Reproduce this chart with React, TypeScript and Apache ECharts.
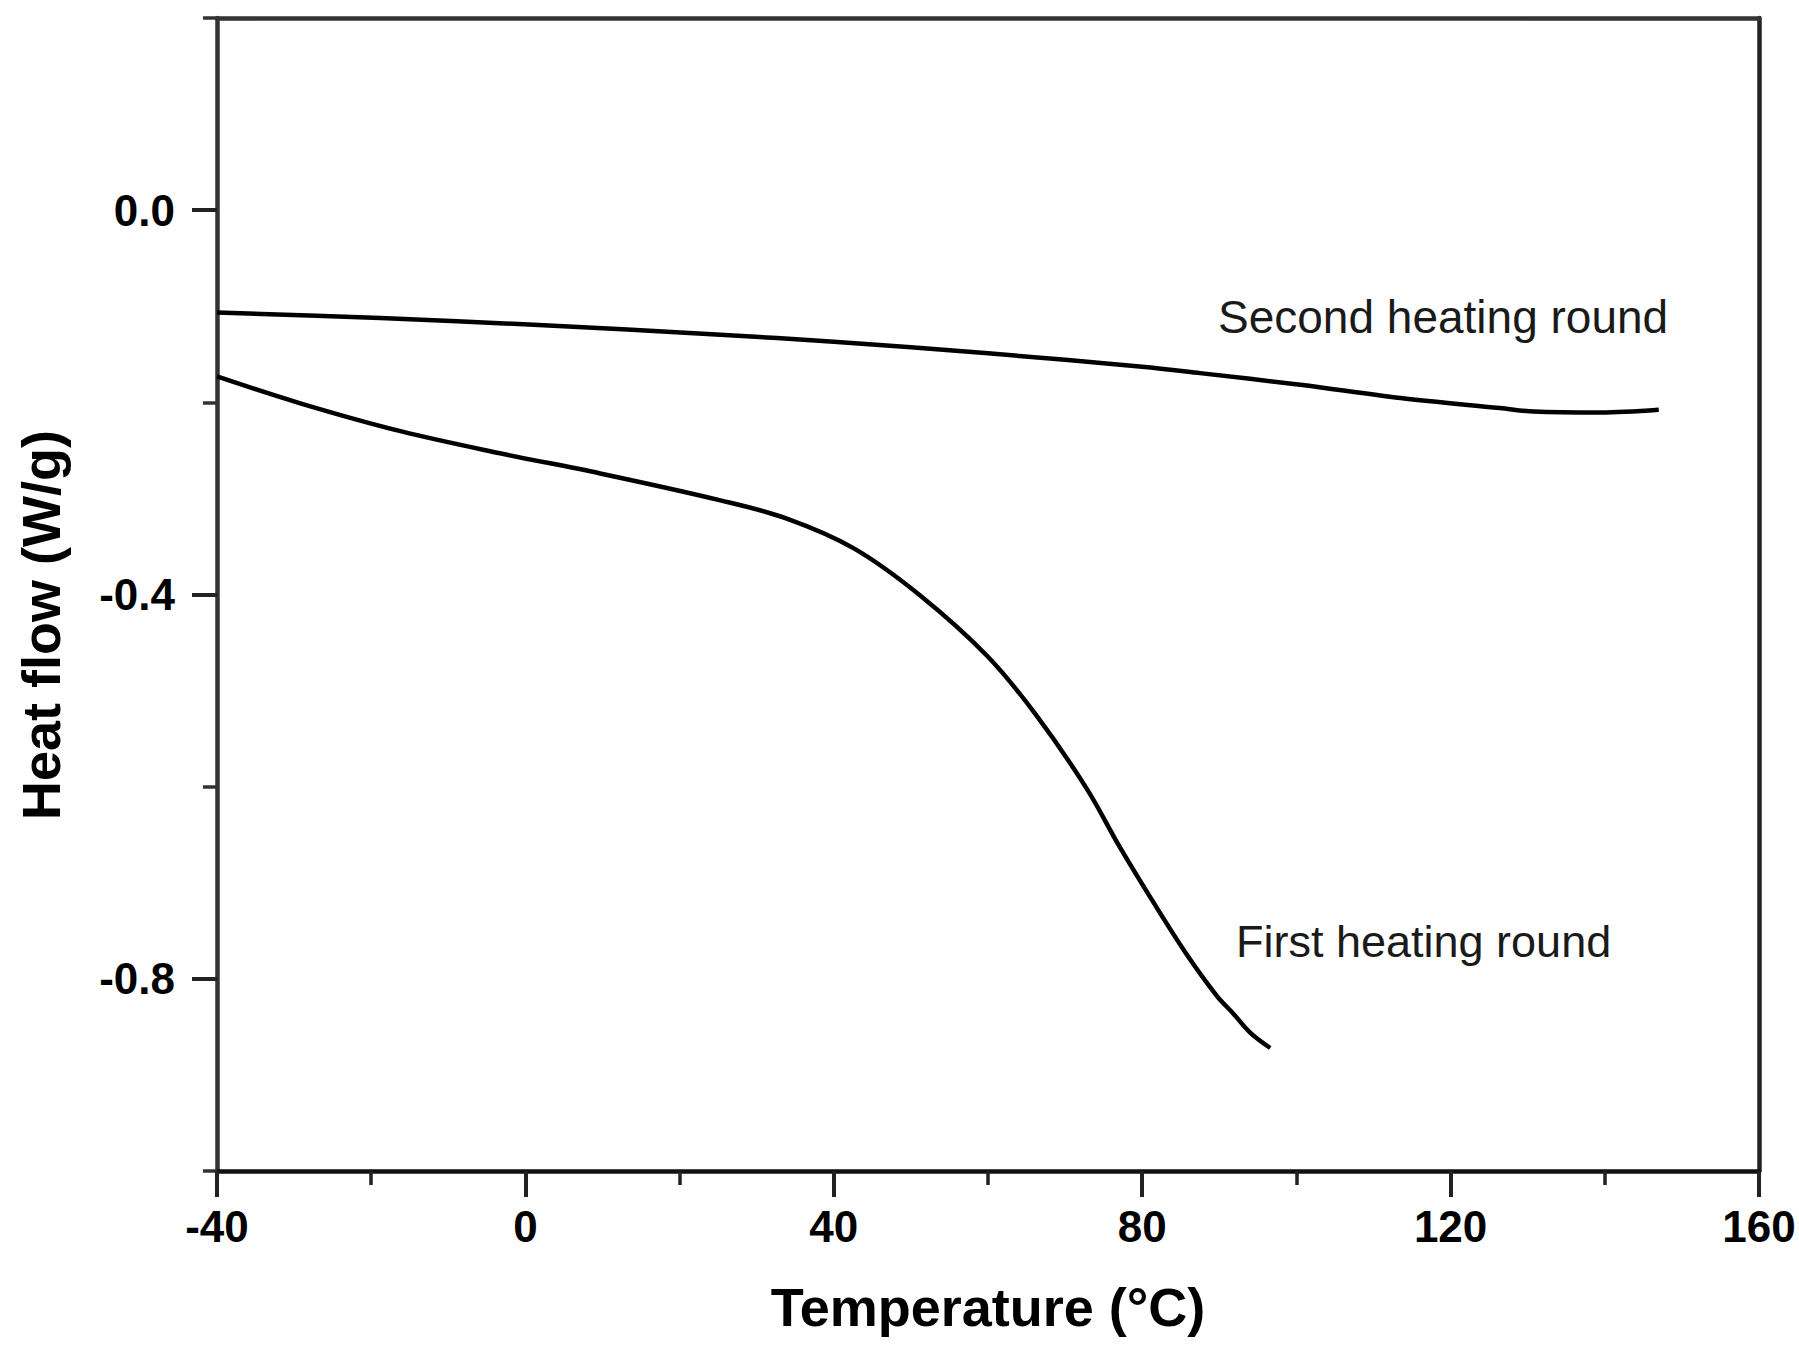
import React, { useEffect, useRef } from "react";
import * as echarts from "echarts";

// Temperature (°C) and heat flow (W/g)
const FIRST_T = [-40, -29.2, -16.2, -3.3, 9.7, 25.3, 33.9, 42.6, 51.2, 59.9, 66.3, 72.8, 77.1, 81.5, 85.8, 89.7, 91.8, 94.0, 96.6];
const FIRST_V = [-0.173, -0.201, -0.23, -0.253, -0.274, -0.302, -0.321, -0.352, -0.401, -0.464, -0.526, -0.602, -0.663, -0.721, -0.775, -0.818, -0.836, -0.856, -0.872];

const SECOND_T = [-40, -18.8, 1.1, 25.3, 40, 60, 80, 87.5, 100.5, 113.5, 126.4, 130.8, 139.4, 147];
const SECOND_V = [-0.1065, -0.1122, -0.1193, -0.1297, -0.137, -0.149, -0.163, -0.1696, -0.1817, -0.1956, -0.206, -0.2096, -0.2106, -0.2078];

const X_MIN = -40;
const X_MAX = 160;
const Y_MIN = -1.0;
const Y_MAX = 0.2;
const Y_LABELS = [-0.8, -0.4, 0.0];
const Y_MINOR = [-1.0, -0.6, -0.2, 0.2];

const X_TITLE = "Temperature (°C)";
const Y_TITLE = "Heat flow (W/g)";
const FIRST_NAME = "First heating round";
const SECOND_NAME = "Second heating round";

const FONT = 'Arial, "Liberation Sans", Helvetica, sans-serif';

export default function App() {
  const ref = useRef<HTMLDivElement>(null);

  useEffect(() => {
    if (!ref.current) return;
    const chart = echarts.init(ref.current, undefined, { renderer: "svg" });
    const first = FIRST_T.map((t, i) => [t, FIRST_V[i]]);
    const second = SECOND_T.map((t, i) => [t, SECOND_V[i]]);

    chart.setOption({
      animation: false,
      backgroundColor: "#ffffff",
      grid: { left: 217, top: 18, width: 1542, height: 1153, containLabel: false },
      xAxis: [
        {
          type: "value",
          position: "bottom",
          min: X_MIN,
          max: X_MAX,
          interval: 40,
          axisLine: { show: true, onZero: false, lineStyle: { color: "#111", width: 4.5 } },
          axisTick: { show: true, inside: false, length: 26, lineStyle: { color: "#222", width: 4 } },
          minorTick: { show: true, splitNumber: 2, length: 14, lineStyle: { color: "#222", width: 3.5 } },
          splitLine: { show: false },
          minorSplitLine: { show: false },
          axisLabel: {
            margin: 33,
            fontSize: 44,
            fontWeight: "bold",
            fontFamily: FONT,
            color: "#000",
          },
          name: X_TITLE,
          nameLocation: "middle",
          nameGap: 109,
          nameTextStyle: { fontSize: 54, fontWeight: "bold", fontFamily: FONT, color: "#000" },
        },
        {
          type: "value",
          position: "top",
          min: X_MIN,
          max: X_MAX,
          axisLine: { show: true, onZero: false, lineStyle: { color: "#333", width: 4.5 } },
          axisTick: { show: false },
          axisLabel: { show: false },
          splitLine: { show: false },
        },
      ],
      yAxis: [
        {
          type: "value",
          position: "left",
          min: Y_MIN,
          max: Y_MAX,
          interval: 0.2,
          axisLine: { show: true, onZero: false, lineStyle: { color: "#333", width: 4.5 } },
          axisTick: {
            show: true,
            inside: false,
            length: 25,
            customValues: Y_LABELS,
            lineStyle: { color: "#222", width: 4 },
          },
          splitLine: { show: false },
          axisLabel: {
            customValues: Y_LABELS,
            margin: 42,
            fontSize: 44,
            fontWeight: "bold",
            fontFamily: FONT,
            color: "#000",
            formatter: (v: number) => v.toFixed(1),
          },
        },
        {
          type: "value",
          position: "left",
          min: Y_MIN,
          max: Y_MAX,
          interval: 0.2,
          axisLine: { show: false, onZero: false },
          axisTick: {
            show: true,
            inside: false,
            length: 14,
            customValues: Y_MINOR,
            lineStyle: { color: "#333", width: 3.5 },
          },
          axisLabel: { show: false },
          splitLine: { show: false },
        },
        {
          type: "value",
          position: "right",
          min: Y_MIN,
          max: Y_MAX,
          axisLine: { show: true, onZero: false, lineStyle: { color: "#222", width: 4.5 } },
          axisTick: { show: false },
          axisLabel: { show: false },
          splitLine: { show: false },
        },
      ],
      series: [
        {
          name: SECOND_NAME,
          type: "line",
          xAxisIndex: 0,
          yAxisIndex: 0,
          data: second,
          showSymbol: false,
          smooth: 0.35,
          lineStyle: { color: "#000", width: 4.5 },
        },
        {
          name: FIRST_NAME,
          type: "line",
          xAxisIndex: 0,
          yAxisIndex: 0,
          data: first,
          showSymbol: false,
          smooth: 0.35,
          lineStyle: { color: "#000", width: 4.5 },
        },
      ],
      graphic: [
        {
          type: "text",
          x: 41,
          y: 625,
          rotation: Math.PI / 2,
          style: {
            text: Y_TITLE,
            fontSize: 54,
            fontWeight: "bold",
            fontFamily: FONT,
            fill: "#000",
            textAlign: "center",
            textVerticalAlign: "middle",
          },
        },
        {
          type: "text",
          x: 1218,
          y: 317,
          style: {
            text: SECOND_NAME,
            fontSize: 46,
            fontFamily: FONT,
            fill: "#1a1a1a",
            textAlign: "left",
            textVerticalAlign: "middle",
          },
        },
        {
          type: "text",
          x: 1236,
          y: 941,
          style: {
            text: FIRST_NAME,
            fontSize: 45,
            fontFamily: FONT,
            fill: "#1a1a1a",
            textAlign: "left",
            textVerticalAlign: "middle",
          },
        },
      ],
    });

    return () => chart.dispose();
  }, []);

  return (
    <div
      ref={ref}
      style={{ position: "fixed", left: 0, top: 0, width: 1799, height: 1359, background: "#fff" }}
    />
  );
}
